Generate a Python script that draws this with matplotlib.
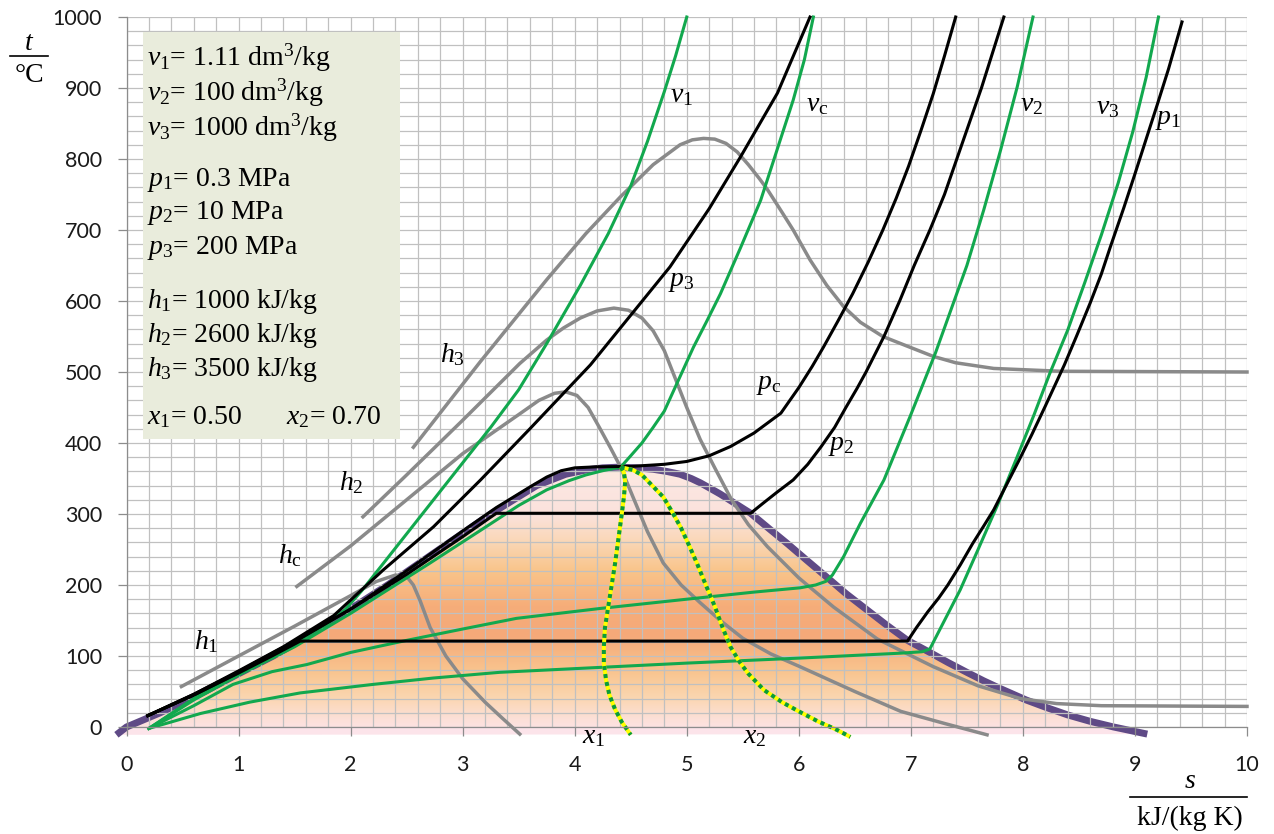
import matplotlib
matplotlib.use("Agg")
import matplotlib.pyplot as plt
import numpy as np
from matplotlib.colors import LinearSegmentedColormap
from matplotlib.patches import Polygon, Rectangle
from matplotlib.lines import Line2D

plt.rcParams["mathtext.fontset"] = "custom"
plt.rcParams["mathtext.rm"] = "Liberation Serif"
plt.rcParams["mathtext.it"] = "Liberation Serif:italic"

# saturation dome, s in kJ/(kg K), t in degC
dome_s = [-0.09, 0.0, 0.3, 0.7, 1.0, 1.31, 1.53, 1.84, 2.33, 2.79, 3.25, 3.66, 3.92, 4.1, 4.25, 4.4,
          4.55, 4.7, 4.82, 4.94, 5.04, 5.12, 5.2, 5.3, 5.43, 5.57, 5.73, 5.9, 6.07, 6.25, 6.42, 6.6,
          6.78, 6.97, 7.17, 7.33, 7.5, 7.65, 7.8, 8.03, 8.2, 8.4, 8.6, 8.81, 9.11]
dome_t = [-11, 0, 20, 50, 75, 100, 120, 150, 200, 250, 300, 340, 356, 362, 365, 366,
          365, 363, 360, 356, 350, 344, 337, 328, 315, 301, 280, 258, 235, 211, 188, 166,
          144, 122, 105, 91, 77, 65, 54, 38, 28, 17, 8, 0, -10]

# isobars
p1_s = [0.19, 0.6, 1.0, 1.31, 1.55, 6.97, 7.05, 7.15, 7.25, 7.33, 7.44, 7.55, 7.65, 7.74, 7.85, 7.96,
        8.08, 8.2, 8.37, 8.48, 8.6, 8.7, 8.78, 8.9, 9.0, 9.11, 9.2, 9.3, 9.42]
p1_t = [16, 45, 76, 101, 121, 121, 140, 162, 182, 200, 228, 258, 283, 306, 340, 374,
        412, 452, 510, 551, 597, 638, 676, 731, 779, 833, 877, 927, 993]
p2_s = [0.19, 0.6, 1.0, 1.5, 2.0, 2.5, 3.0, 3.3, 5.57, 5.68, 5.8, 5.95, 6.08, 6.2, 6.32, 6.42, 6.52,
        6.6, 6.76, 6.9, 7.03, 7.17, 7.3, 7.41, 7.52, 7.63, 7.73, 7.83]
p2_t = [16, 45, 77, 120, 166, 215, 268, 301, 301, 315, 330, 348, 370, 395, 422, 450, 477,
        500, 550, 600, 650, 700, 750, 800, 850, 900, 950, 1000]
pc_s = [0.19, 0.6, 1.0, 1.5, 2.0, 2.5, 3.0, 3.3, 3.6, 3.75, 3.88, 4.0, 4.2, 4.5, 4.8, 5.0, 5.2, 5.39,
        5.6, 5.84, 6.0, 6.12, 6.22, 6.35, 6.48, 6.62, 6.75, 6.87, 6.98, 7.09, 7.2, 7.3, 7.4]
pc_t = [16, 46, 78, 121, 166, 220, 276, 309, 338, 352, 361, 365, 366.5, 367, 370, 374, 382, 395,
        414, 442, 478, 508, 535, 572, 610, 655, 700, 745, 790, 840, 892, 945, 1000]
p3_s = [0.19, 0.6, 1.0, 1.4, 1.85, 2.29, 2.74, 3.16, 3.6, 4.14, 4.5, 4.85, 5.2, 5.48, 5.81, 6.1]
p3_t = [16, 46, 79, 113, 157, 221, 282, 348, 420, 510, 580, 648, 730, 803, 893, 1000]

# isochores
v1_s = [0.2, 0.6, 1.0, 1.5, 1.8, 1.95, 2.1, 2.3, 2.5, 2.75, 3.0, 3.25, 3.5, 3.75, 4.05, 4.3, 4.5,
        4.65, 4.8, 4.9, 5.0]
v1_t = [-2, 40, 76, 118, 146, 165, 192, 232, 272, 322, 372, 422, 475, 540, 622, 695, 762,
        825, 895, 945, 1000]
vc_s = [0.2, 0.6, 1.0, 1.5, 2.0, 2.26, 2.7, 3.16, 3.5, 3.75, 3.95, 4.1, 4.25, 4.41, 4.5, 4.6, 4.7,
        4.8, 4.93, 5.06, 5.18, 5.3, 5.48, 5.66, 5.8, 5.95, 6.05, 6.13]
vc_t = [-2, 38, 73, 113, 160, 186, 230, 277, 312, 334, 347, 355, 361, 366, 382, 400, 422,
        445, 490, 535, 572, 610, 675, 742, 810, 883, 940, 1000]
v2_s = [0.2, 0.6, 0.95, 1.3, 1.61, 2.0, 2.5, 3.0, 3.48, 4.23, 5.0, 5.6, 6.01, 6.15, 6.24, 6.3, 6.4,
        6.55, 6.76, 7.0, 7.22, 7.5, 7.65, 7.8, 7.95, 8.09]
v2_t = [-2, 30, 60, 78, 88, 105, 122, 138, 153, 167, 180, 190, 196, 200, 205, 214, 240,
        287, 348, 440, 527, 650, 728, 812, 902, 1000]
v3_s = [0.2, 0.66, 1.1, 1.55, 2.2, 2.74, 3.33, 4.23, 5.0, 6.0, 6.91, 7.1, 7.17, 7.3, 7.44, 7.6,
        7.78, 7.95, 8.1, 8.24, 8.4, 8.55, 8.7, 8.85, 8.98, 9.1, 9.21]
v3_t = [-2, 19, 35, 48, 60, 69, 77, 84, 90, 97, 104, 106, 110, 150, 193, 250,
        315, 381, 440, 498, 559, 625, 693, 766, 838, 915, 1000]

# isenthalps
h1_s = [0.49, 1.0, 1.5, 2.0, 2.23, 2.4, 2.5, 2.56, 2.62, 2.71, 2.85, 3.0, 3.2, 3.35, 3.51]
h1_t = [57, 100, 142, 185, 205, 214, 212, 200, 178, 140, 100, 68, 35, 13, -10]
hc_s = [1.52, 2.0, 2.5, 3.0, 3.5, 3.68, 3.82, 3.92, 4.02, 4.12, 4.22, 4.32, 4.41, 4.52, 4.65, 4.79,
        4.95, 5.12, 5.3, 5.5, 5.75, 6.01, 6.5, 6.91, 7.3, 7.68]
hc_t = [198, 255, 320, 385, 440, 460, 470, 472, 467, 450, 422, 393, 366, 324, 275, 231,
        200, 175, 150, 125, 103, 85, 50, 22, 5, -11]
h2_s = [2.11, 2.5, 3.0, 3.51, 3.75, 3.9, 4.05, 4.2, 4.35, 4.48, 4.6, 4.7, 4.8, 4.9, 5.0, 5.12, 5.25,
        5.4, 5.55, 5.72, 6.0, 6.31, 6.7, 7.2, 7.6, 7.98, 8.3, 8.7, 10.0]
h2_t = [296, 355, 432, 512, 545, 562, 576, 586, 590, 587, 576, 558, 530, 490, 450, 405, 365,
        320, 285, 254, 210, 169, 124, 85, 58, 40, 33, 30, 29]
h3_s = [2.56, 3.16, 3.75, 4.1, 4.41, 4.7, 4.94, 5.05, 5.15, 5.25, 5.35, 5.45, 5.55, 5.65, 5.72, 5.85,
        5.95, 6.1, 6.25, 6.4, 6.55, 6.75, 6.99, 7.2, 7.4, 7.74, 8.34, 10.0]
h3_t = [394, 515, 630, 695, 747, 792, 820, 827, 829, 828, 822, 810, 792, 772, 757, 725,
        700, 658, 622, 592, 570, 550, 535, 522, 513, 505, 501, 500]

# constant quality lines
x1_s = [4.41, 4.44, 4.45, 4.44, 4.42, 4.39, 4.36, 4.33, 4.3, 4.27, 4.26, 4.26, 4.28, 4.31, 4.36, 4.42, 4.5]
x1_t = [366, 358, 345, 325, 300, 265, 230, 200, 170, 140, 113, 90, 66, 45, 25, 7, -11]
x2_s = [4.41, 4.52, 4.6, 4.68, 4.79, 4.87, 4.95, 5.02, 5.09, 5.17, 5.25, 5.32, 5.39, 5.47, 5.55, 5.69,
        5.85, 6.0, 6.17, 6.34, 6.46]
x2_t = [366, 362, 355, 342, 324, 303, 280, 256, 231, 200, 170, 140, 113, 92, 75, 52,
        35, 22, 8, -4, -14]

box_lines = [r"$v_1$= 1.11 dm$^3$/kg", r"$v_2$= 100 dm$^3$/kg", r"$v_3$= 1000 dm$^3$/kg",
             r"$p_1$= 0.3 MPa", r"$p_2$= 10 MPa", r"$p_3$= 200 MPa",
             r"$h_1$= 1000 kJ/kg", r"$h_2$= 2600 kJ/kg", r"$h_3$= 3500 kJ/kg"]
box_y = [58, 93, 128, 180, 213, 248, 302, 335, 370]

curve_labels = [r"$v_1$", r"$v_\mathrm{c}$", r"$v_2$", r"$v_3$", r"$p_1$", r"$p_3$", r"$p_\mathrm{c}$",
                r"$p_2$", r"$h_3$", r"$h_2$", r"$h_\mathrm{c}$", r"$h_1$", r"$x_1$", r"$x_2$"]
label_s = [4.95, 6.16, 8.08, 8.76, 9.3, 4.95, 5.73, 6.38, 2.91, 2.01, 1.46, 0.71, 4.17, 5.61]
label_t = [890, 876, 876, 872, 855, 627, 482, 397, 524, 344, 242, 120, -14, -14]

W, H = 1274, 834
fig = plt.figure(figsize=(W / 100, H / 100), dpi=100)
ax = fig.add_axes([126.5 / W, 107 / H, 1120.5 / W, 710 / H])

# gradient fill inside the dome
cmap = LinearSegmentedColormap.from_list("dome", [
    (0.00, "#fce4ea"), (0.06, "#fce0d8"), (0.14, "#fbd6b0"), (0.24, "#f9c48e"),
    (0.37, "#f5a979"), (0.48, "#f6ad79"), (0.61, "#f9c48a"), (0.72, "#fad7b6"),
    (0.82, "#fbe2dc"), (0.93, "#fce6e1"), (1.00, "#fdebde")])
dome_xy = np.column_stack([dome_s, dome_t])
ax.add_patch(Polygon(dome_xy, closed=True, facecolor="#fce4ea", edgecolor="none", zorder=0.9, clip_on=False))
grad = np.linspace(0, 1, 256).reshape(-1, 1)
im = ax.imshow(grad, extent=[-0.2, 9.3, -12, 367], origin="lower", aspect="auto", cmap=cmap, zorder=1)
im.set_clip_path(Polygon(dome_xy, closed=True, transform=ax.transData))
ax.set_xlim(0, 10)
ax.set_ylim(0, 1000)

ax.plot(dome_s, dome_t, color="#5f4a86", lw=5, zorder=1.2, clip_on=False, solid_capstyle="butt")

# grid and axes
ax.set_axisbelow("line")
ax.set_xticks(range(11))
ax.set_yticks(range(0, 1001, 100))
ax.set_xticks(np.arange(0, 10.01, 0.2), minor=True)
ax.set_yticks(range(0, 1001, 20), minor=True)
ax.grid(which="both", color="#c0c0c0", lw=0.9)
ax.tick_params(which="minor", length=0)
ax.tick_params(which="major", length=6.5, width=0.9, color="#8c8c8c", labelsize=15.5, labelcolor="#1a1a1a")
ax.tick_params(axis="x", pad=14)
ax.tick_params(axis="y", pad=11)
for lab in ax.get_xticklabels() + ax.get_yticklabels():
    lab.set_family("Lato")
for side in ["top", "right"]:
    ax.spines[side].set_visible(False)
for side in ["left", "bottom"]:
    ax.spines[side].set_color("#8c8c8c")
    ax.spines[side].set_linewidth(0.9)

# info box
ax.add_patch(Rectangle((0.15, 405), 2.29, 574, facecolor="#e9ecdc", edgecolor="none", zorder=1.8))

gray = "#8a8a8a"
green = "#12a84e"
for s, t in [(h1_s, h1_t), (hc_s, hc_t), (h2_s, h2_t), (h3_s, h3_t)]:
    ax.plot(s, t, color=gray, lw=2.5, zorder=2.1, clip_on=False)
for s, t in [(v1_s, v1_t), (vc_s, vc_t), (v2_s, v2_t), (v3_s, v3_t)]:
    ax.plot(s, t, color=green, lw=2.2, zorder=2.2, clip_on=False)
for s, t in [(p1_s, p1_t), (p2_s, p2_t), (pc_s, pc_t), (p3_s, p3_t)]:
    ax.plot(s, t, color="black", lw=2.2, zorder=2.3, clip_on=False)
for s, t in [(x1_s, x1_t), (x2_s, x2_t)]:
    ax.plot(s, t, color="#ffff00", lw=2.9, zorder=2.4, clip_on=False, solid_capstyle="butt")
    ax.plot(s, t, color="#0a9a3c", lw=2.9, zorder=2.5, clip_on=False, linestyle=(0, (1, 1)), dash_capstyle="butt")

serif = "Liberation Serif"
for txt, s, t in zip(curve_labels, label_s, label_t):
    ax.text(s, t, txt, fontsize=20, family=serif, ha="center", va="center", zorder=4, clip_on=False)

for txt, y in zip(box_lines, box_y):
    ax.text((147 - 126.5) / 112, (727 - y) / 0.71, txt, fontsize=20, family=serif, ha="left", va="center", zorder=4)
ax.text((147 - 126.5) / 112, (727 - 417) / 0.71, r"$x_1$= 0.50", fontsize=20, family=serif, ha="left", va="center", zorder=4)
ax.text((286 - 126.5) / 112, (727 - 417) / 0.71, r"$x_2$= 0.70", fontsize=20, family=serif, ha="left", va="center", zorder=4)

# axis titles as fractions
fig.text(29 / W, 1 - 43 / H, r"$t$", fontsize=20, family=serif, ha="center", va="center")
fig.add_artist(Line2D([10 / W, 48 / W], [1 - 56 / H, 1 - 56 / H], color="black", lw=1.2))
fig.text(29 / W, 1 - 75 / H, "°C", fontsize=20, family=serif, ha="center", va="center")
fig.text(1190 / W, 1 - 782 / H, r"$s$", fontsize=20, family=serif, ha="center", va="center")
fig.add_artist(Line2D([1130 / W, 1247 / W], [1 - 797 / H, 1 - 797 / H], color="black", lw=1.2))
fig.text(1190 / W, 1 - 818 / H, "kJ/(kg K)", fontsize=20, family=serif, ha="center", va="center")

plt.savefig("out.png", dpi=100)
